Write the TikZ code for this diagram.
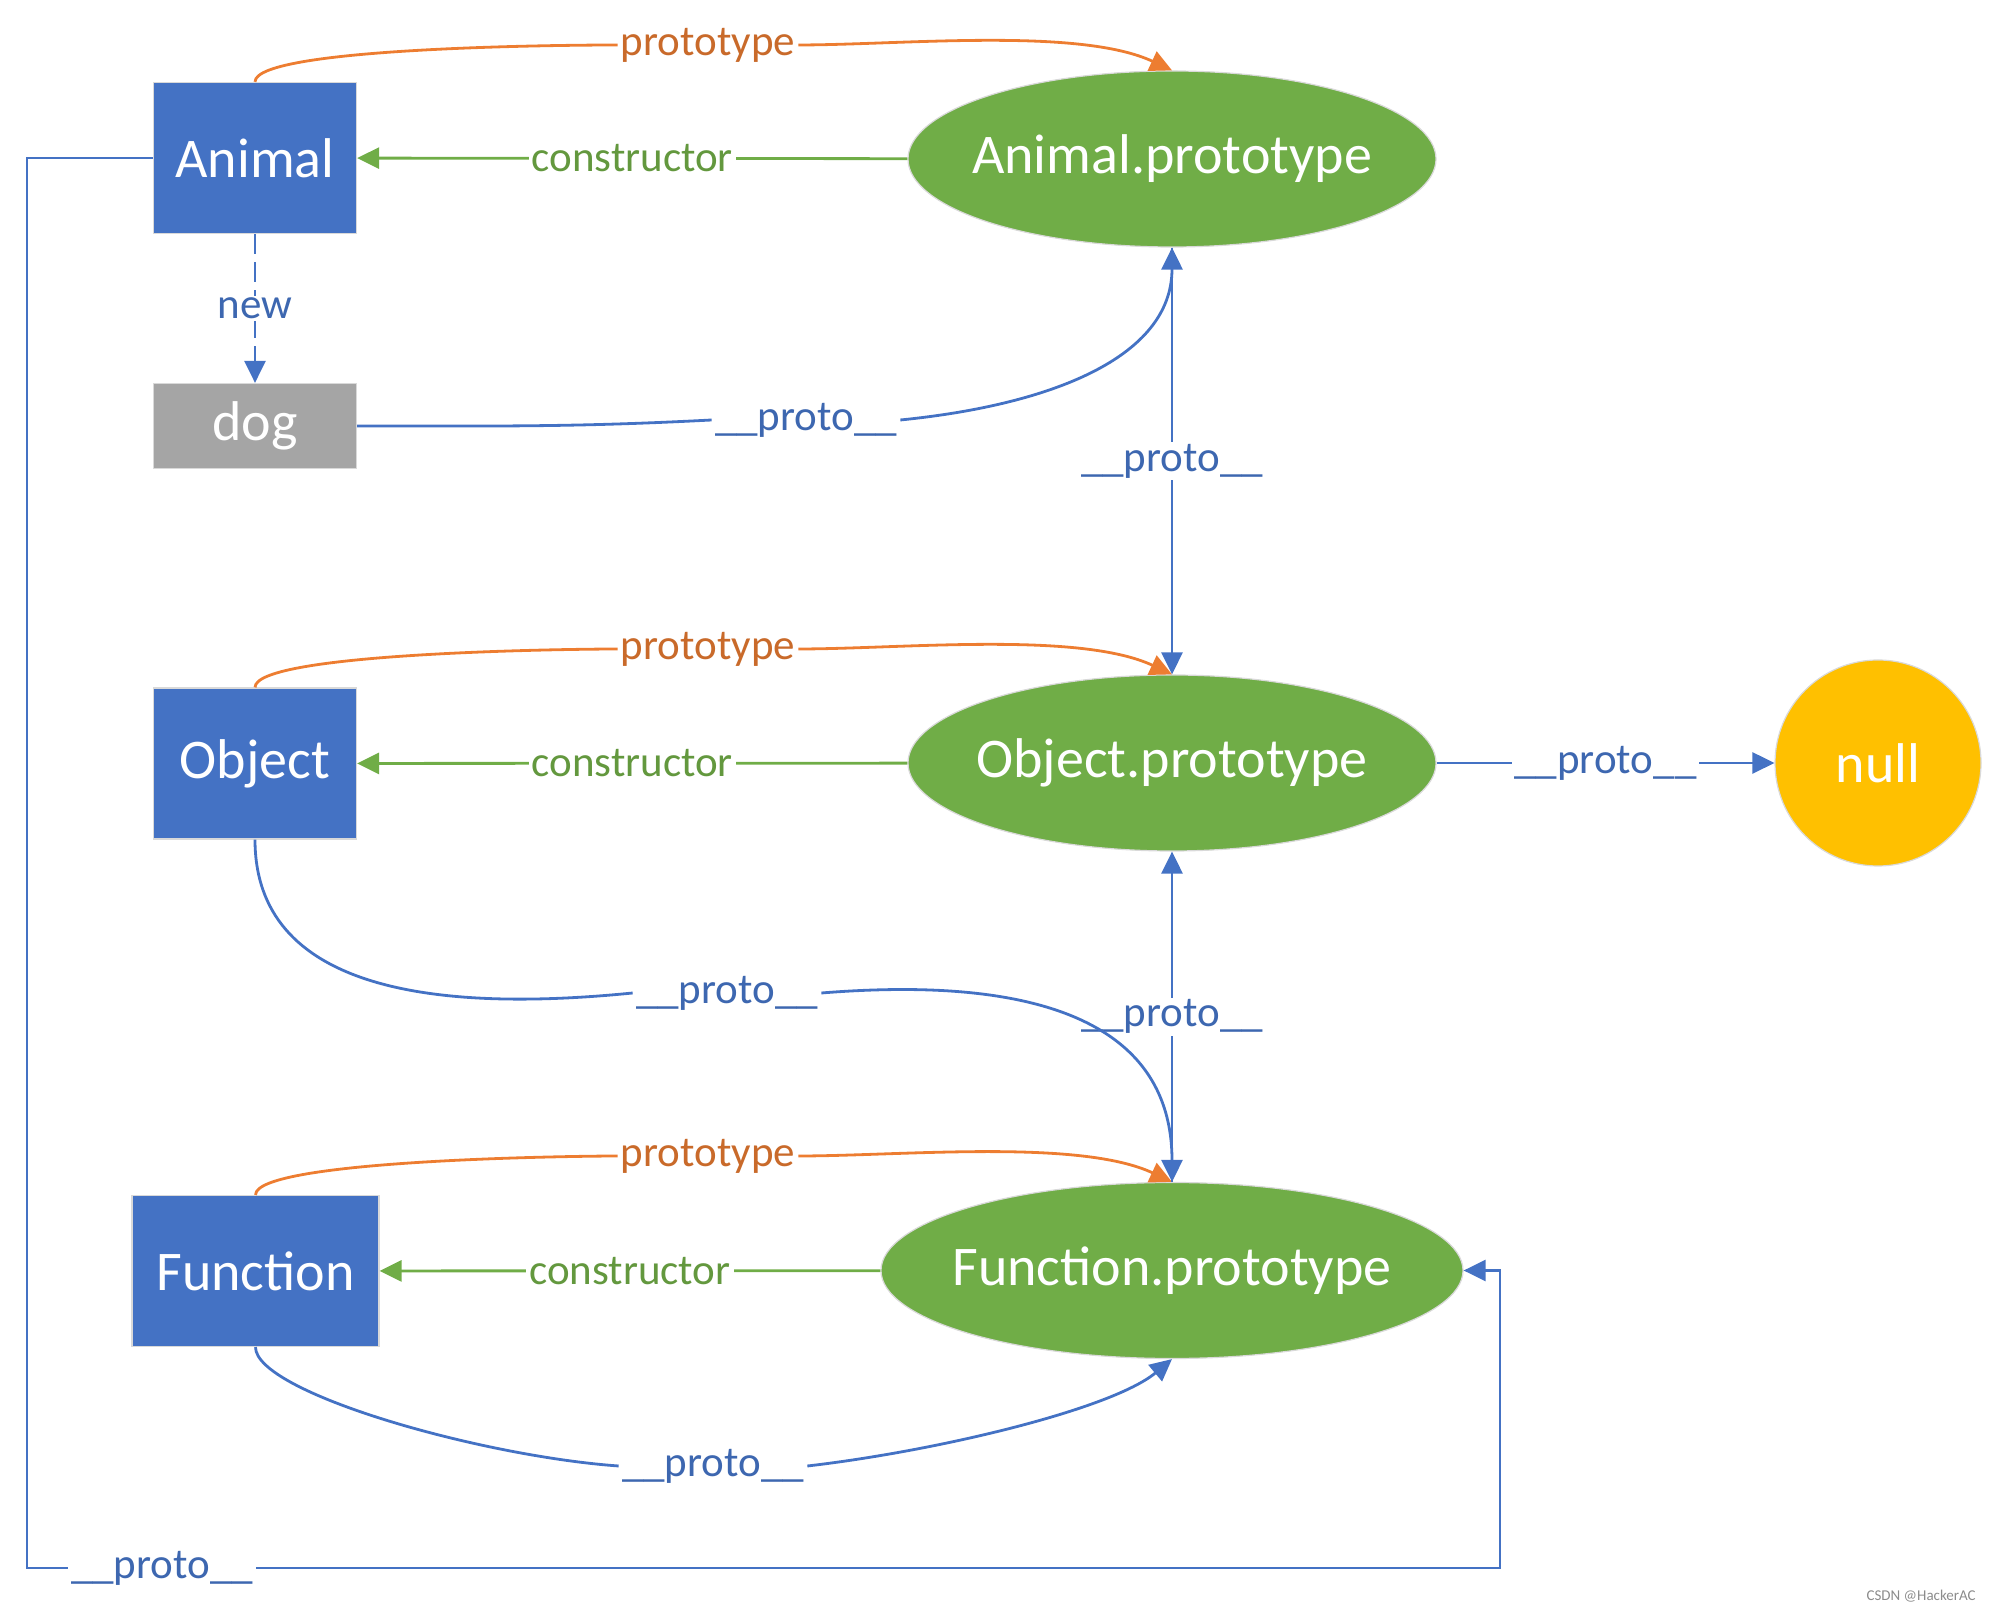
\documentclass[tikz,border=0pt]{standalone}
\usepackage{fontspec}
\setmainfont{Carlito}
\usepackage{tikz}
\usetikzlibrary{arrows.meta}
\usetikzlibrary{shapes.geometric}
\usetikzlibrary{positioning}

\definecolor{offblue}{HTML}{4472C4}
\definecolor{offgreen}{HTML}{70AD47}
\definecolor{offorange}{HTML}{ED7D31}
\definecolor{offgold}{HTML}{FFC000}
\definecolor{offgray}{HTML}{A5A5A5}
\colorlet{tlbl}{offorange!85!black}
\colorlet{clbl}{offgreen!88!black}
\colorlet{plbl}{offblue!90!black}

\begin{document}
\begin{tikzpicture}[x=0.5pt,y=0.5pt,
	cls/.style={rectangle,fill=offblue,draw=black!15,line width=0.6pt,text=white,inner sep=0pt,minimum width=101.5pt,minimum height=75.5pt,font=\fontsize{28}{34}\selectfont},
	obj/.style={ellipse,fill=offgreen,draw=black!15,line width=0.6pt,text=white,inner xsep=-30pt,inner ysep=0pt,minimum width=264pt,minimum height=88pt,font=\fontsize{28}{34}\selectfont},
	lbl/.style={fill=white,inner xsep=1.5pt,inner ysep=1pt,font=\fontsize{21.5}{26}\selectfont},
	pline/.style={draw=offblue,line width=1.4pt},
	tline/.style={draw=offorange,line width=1.4pt},
	cline/.style={draw=offgreen,line width=1.4pt},
	arr/.style={-{Triangle[length=11pt,width=10.5pt]}}]
		
		\useasboundingbox (0,0) rectangle (1989,1611);
		
		% constructors and instance
		\node[cls] (animal) at (255,1453) {Animal};
		\node[cls,fill=offgray,minimum height=42.5pt] (dog) at (255,1185) {dog};
		\node[cls] (object) at (255,847.5) {Object};
		\node[cls,minimum width=123.5pt] (function) at (255.5,340) {Function};
		
		% prototype objects
		\node[obj] (aproto) at (1172,1452) {Animal.prototype};
		\node[obj] (oproto) at (1172,848) {Object.prototype};
		\node[obj,minimum width=291pt] (fproto) at (1172,340.5) {Function.prototype};
		\node[circle,fill=offgold,draw=black!15,line width=0.6pt,text=white,minimum size=103pt,inner sep=0pt,font=\fontsize{28}{34}\selectfont] (nullobj) at (1878,848) {null};
		
		% prototype
		\node[lbl,text=tlbl] (tA) at (708,1566) {prototype};
		\node[lbl,text=tlbl] (tO) at (708,962) {prototype};
		\node[lbl,text=tlbl] (tF) at (708,455) {prototype};
		\draw[tline] (animal.north) to[out=90,in=180,looseness=0.25] (tA.west);
		\draw[tline,arr] (tA.east) to[out=0,in=155,looseness=0.7] (aproto.north);
		\draw[tline] (object.north) to[out=90,in=180,looseness=0.25] (tO.west);
		\draw[tline,arr] (tO.east) to[out=0,in=155,looseness=0.7] (oproto.north);
		\draw[tline] (function.north) to[out=90,in=180,looseness=0.25] (tF.west);
		\draw[tline,arr] (tF.east) to[out=0,in=155,looseness=0.7] (fproto.north);
		
		% constructor
		\draw[cline,arr] (aproto) -- node[lbl,text=clbl] (cA) {constructor} (animal);
		\draw[cline,arr] (oproto) -- node[lbl,text=clbl] (cO) {constructor} (object);
		\draw[cline,arr] (fproto) -- node[lbl,text=clbl] (cF) {constructor} (function);
		
		\draw[pline,dash pattern=on 10pt off 4pt,arr] (animal) -- node[lbl,text=plbl] (nw) {new} (dog);
		
		% __proto__
		\node[lbl,text=plbl] (pD) at (806,1191) {\_\_proto\_\_};
		\draw[pline] (dog.east) to[out=0,in=183] (pD.west);
		\draw[pline,arr] (pD.east) .. controls +(150,15) and +(0,-110) .. (aproto.south);
		
		\draw[pline,arr] (aproto) -- node[lbl,text=plbl] (pA) {\_\_proto\_\_} (oproto);
		\draw[pline,arr] (oproto) -- node[lbl,text=plbl] (pO) {\_\_proto\_\_} (nullobj);
		\draw[pline,arr] (fproto) -- node[lbl,text=plbl] (pF) {\_\_proto\_\_} (oproto);
		
		\node[lbl,text=plbl] (pB) at (727,618) {\_\_proto\_\_};
		\draw[pline] (object.south) .. controls +(0,-150) and +(-200,-20) .. (pB.west);
		\draw[pline,arr] (pB.east) .. controls +(150,12) and +(0,190) .. (fproto.north);
		
		\node[lbl,text=plbl] (pG) at (713,145) {\_\_proto\_\_};
		\draw[pline] (function.south) .. controls +(0,-45) and +(-140,10) .. (pG.west);
		\draw[pline,arr] (pG.east) .. controls +(130,15) and +(-60,-50) .. (fproto.south);
		
		\coordinate (lc) at (27,43);
		\coordinate (rc) at (1500,43);
		\node[lbl,text=plbl] (pL) at (162,43) {\_\_proto\_\_};
		\draw[pline] (animal.west) -| (lc) -- (pL.west);
		\draw[pline,arr] (pL.east) -- (rc) |- (fproto.east);
		
		\node[anchor=east,text=black!45,inner sep=0pt,font=\fontsize{7.5}{9}\selectfont] (mark) at (1976,15) {CSDN @HackerAC};
	\end{tikzpicture}
\end{document}
